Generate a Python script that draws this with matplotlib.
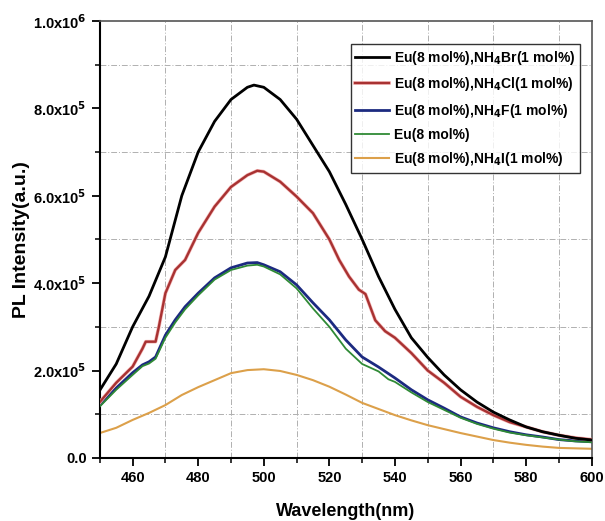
import matplotlib
matplotlib.use('Agg')
import matplotlib.pyplot as plt
import matplotlib.patheffects as pe
from matplotlib.ticker import FixedLocator, MultipleLocator

plt.rcParams['font.family'] = ['Liberation Sans', 'DejaVu Sans']
plt.rcParams['font.weight'] = 'bold'
plt.rcParams['mathtext.default'] = 'bf'

# Wavelength grids (nm) and intensities (x1e5 counts)
wl_5 = [450, 455, 460, 465, 470, 475, 480, 485, 490, 495, 500, 505, 510,
        515, 520, 525, 530, 535, 540, 545, 550, 555, 560, 565, 570, 575,
        580, 585, 590, 595, 600]

wl_br = [450, 455, 460, 465, 470, 475, 480, 485, 490, 495, 497, 500, 505,
         510, 515, 520, 525, 530, 535, 540, 545, 550, 555, 560, 565, 570,
         575, 580, 585, 590, 595, 600]
pl_br = [1.55, 2.15, 3.0, 3.7, 4.6, 6.0, 7.0, 7.7, 8.2, 8.48, 8.53, 8.48,
         8.2, 7.75, 7.15, 6.55, 5.8, 5.0, 4.15, 3.4, 2.75, 2.3, 1.9, 1.56,
         1.28, 1.05, 0.87, 0.71, 0.6, 0.52, 0.45, 0.41]

wl_cl = [450, 455, 460, 463, 464, 467, 468, 470, 473, 476, 480, 485, 490,
         495, 498, 500, 505, 510, 515, 520, 523, 526, 529, 531, 534, 537,
         540, 545, 550, 555, 560, 565, 570, 575, 580, 585, 590, 595, 600]
pl_cl = [1.28, 1.72, 2.09, 2.5, 2.66, 2.66, 3.0, 3.77, 4.3, 4.53, 5.15,
         5.75, 6.2, 6.47, 6.57, 6.55, 6.32, 5.98, 5.6, 5.0, 4.53, 4.15,
         3.85, 3.75, 3.15, 2.9, 2.75, 2.4, 2.0, 1.72, 1.4, 1.17, 0.98,
         0.82, 0.71, 0.6, 0.52, 0.46, 0.42]

wl_f = [450, 455, 460, 463, 465, 467, 470, 473, 476, 480, 485, 490, 495,
        498, 500, 505, 510, 515, 520, 525, 530, 535, 540, 545, 550, 555,
        560, 565, 570, 575, 580, 585, 590, 595, 600]
pl_f = [1.2, 1.6, 1.95, 2.13, 2.2, 2.31, 2.81, 3.16, 3.46, 3.77, 4.12,
        4.35, 4.46, 4.47, 4.42, 4.26, 3.96, 3.55, 3.16, 2.7, 2.31, 2.08,
        1.83, 1.56, 1.33, 1.14, 0.94, 0.8, 0.69, 0.6, 0.53, 0.48, 0.42,
        0.39, 0.37]

wl_eu = [450, 455, 460, 463, 465, 467, 470, 473, 476, 480, 485, 490, 495,
         498, 500, 505, 510, 515, 520, 525, 530, 535, 538, 540, 545, 550,
         555, 560, 565, 570, 575, 580, 585, 590, 595, 600]
pl_eu = [1.18, 1.56, 1.9, 2.1, 2.16, 2.27, 2.75, 3.1, 3.4, 3.72, 4.08,
         4.3, 4.4, 4.42, 4.38, 4.2, 3.88, 3.42, 3.0, 2.5, 2.15, 1.98, 1.8,
         1.74, 1.5, 1.28, 1.1, 0.92, 0.78, 0.67, 0.58, 0.52, 0.47, 0.42,
         0.38, 0.36]

pl_i = [0.57, 0.69, 0.87, 1.03, 1.21, 1.44, 1.62, 1.78, 1.94, 2.01, 2.03,
        1.99, 1.9, 1.78, 1.63, 1.45, 1.26, 1.12, 0.98, 0.86, 0.75, 0.66,
        0.57, 0.49, 0.41, 0.35, 0.3, 0.26, 0.23, 0.22, 0.21]

labels = [r'Eu(8 mol%),NH$_4$Br(1 mol%)',
          r'Eu(8 mol%),NH$_4$Cl(1 mol%)',
          r'Eu(8 mol%),NH$_4$F(1 mol%)',
          'Eu(8 mol%)',
          r'Eu(8 mol%),NH$_4$I(1 mol%)']

y_ticks = [0, 2e5, 4e5, 6e5, 8e5, 1e6]
y_ticklabels = ['0.0', r'2.0x10$^{5}$', r'4.0x10$^{5}$', r'6.0x10$^{5}$',
                r'8.0x10$^{5}$', r'1.0x10$^{6}$']

fig = plt.figure(figsize=(6.05, 5.21), dpi=100)
ax = fig.add_axes([0.165, 0.121, 0.813, 0.839])


def scale(vals):
    return [v * 1e5 for v in vals]


ax.plot(wl_br, scale(pl_br), color='black', lw=2.0, label=labels[0], zorder=5)
ax.plot(wl_cl, scale(pl_cl), color='#a83232', lw=1.7, label=labels[1], zorder=4,
        path_effects=[pe.Stroke(linewidth=2.6, foreground='#f4b4b4'), pe.Normal()])
ax.plot(wl_f, scale(pl_f), color='#1c2a80', lw=2.0, label=labels[2], zorder=3)
ax.plot(wl_eu, scale(pl_eu), color='#2f8a35', lw=1.3, label=labels[3], zorder=3)
ax.plot(wl_5, scale(pl_i), color='#dca04a', lw=1.5, label=labels[4], zorder=2)

ax.set_xlim(450, 600)
ax.set_ylim(0, 1e6)
ax.xaxis.set_major_locator(FixedLocator(range(460, 601, 20)))
ax.xaxis.set_minor_locator(FixedLocator(range(450, 601, 20)))
ax.set_yticks(y_ticks)
ax.set_yticklabels(y_ticklabels)
ax.yaxis.set_minor_locator(MultipleLocator(1e5))

ax.grid(which='minor', color='#b0b0b0', linestyle=(0, (6, 2, 1, 2)), lw=0.7)
ax.tick_params(which='major', direction='out', length=6, width=1.3,
               labelsize=10.5, top=False, right=False)
ax.tick_params(which='minor', direction='out', length=3.5, width=1.1,
               top=False, right=False)

for side in ['left', 'bottom']:
    ax.spines[side].set_linewidth(1.5)
for side in ['top', 'right']:
    ax.spines[side].set_linewidth(1.2)
    ax.spines[side].set_color('#555555')

ax.set_xlabel('Wavelength(nm)', fontsize=13, fontweight='bold', labelpad=13)
ax.set_ylabel('PL Intensity(a.u.)', fontsize=14, fontweight='bold', labelpad=2)

leg = ax.legend(loc='upper right', bbox_to_anchor=(0.977, 0.947),
                fontsize=10, frameon=True, fancybox=False, handlelength=2.4,
                handletextpad=0.4, borderpad=0.35, labelspacing=0.6,
                borderaxespad=0)
leg.get_frame().set_edgecolor('black')
leg.get_frame().set_linewidth(1.0)

fig.savefig('out.png', dpi=100)
